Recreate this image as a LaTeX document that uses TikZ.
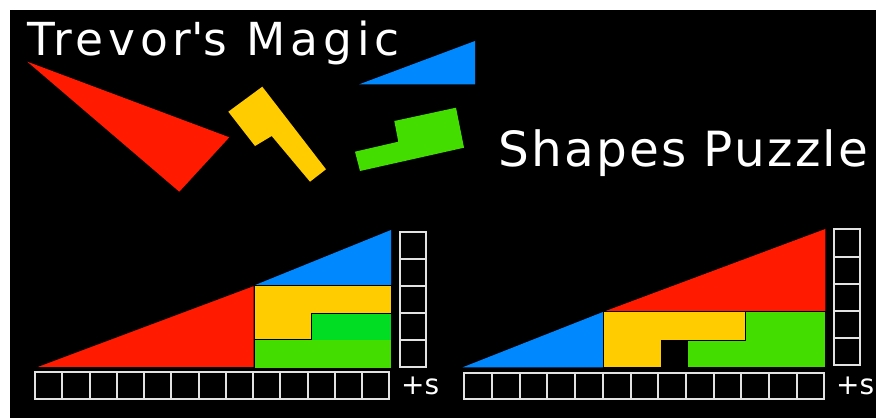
\documentclass[tikz,border=0pt]{standalone}
\usepackage{fontspec}
\setmainfont{DejaVu Sans}
\newfontfamily\titlefontA{DejaVu Sans}[LetterSpace=10.5]
\newfontfamily\titlefontB{DejaVu Sans}[LetterSpace=4.5]
\definecolor{pzred}{HTML}{FF1A00}
\definecolor{pzblue}{HTML}{0088FF}
\definecolor{pzyellow}{HTML}{FFCC00}
\definecolor{pzlime}{HTML}{44DD00}
\definecolor{pzgreen}{HTML}{00DD22}
\definecolor{pzgrid}{HTML}{E2E2E2}
\tikzset{
  piece/.style={draw=black, line width=0.8pt, line join=miter},
  gridsq/.style={draw=pzgrid, line width=2pt},
  title/.style={text=white, inner sep=0pt, anchor=base west},
  plus/.style={text=white, inner sep=0pt, anchor=base west, font=\fontsize{28}{32}\selectfont}
}
\begin{document}
\begin{tikzpicture}[x=1pt,y=-1pt]
\useasboundingbox (0,0) rectangle (876,418);
\fill[white] (0,0) rectangle (876,418);
\fill[black] (10,10) rectangle (876,418);

% titles
\node[title, font=\titlefontA\fontsize{45.5}{54}\selectfont] (t1) at (27,55) {Trevor\textquotesingle s Magic};
\node[title, font=\titlefontB\fontsize{48.5}{58}\selectfont] (t2) at (498,166) {Shapes Puzzle};

% loose pieces
\fill[pzred] (27.3,61.7) -- (229.3,137.3) -- (179.3,191.7) -- cycle;
\fill[pzyellow] (228.3,111.7) -- (262.3,86.7) -- (326,169.3) -- (310,181.7) -- (271.7,136) -- (255,146) -- cycle;
\fill[pzblue] (359.3,84.3) -- (475,41) -- (475,84.3) -- cycle;
\fill[pzlime] (355,151.7) -- (360,171) -- (464,147.7) -- (456,107.7) -- (394.3,121) -- (398.3,141.7) -- cycle;

% left arrangement
\fill[pzred,piece] (35,367.5) -- (254,285.5) -- (254,367.5) -- cycle;
\fill[pzblue] (254,285.5) -- (391,230) -- (391,285.5) -- cycle;
\fill[pzyellow,piece] (254,285.5) -- (391,285.5) -- (391,313.5) -- (311.7,313.5) -- (311.7,339.5) -- (254,339.5) -- cycle;
\fill[pzgreen] (311.7,313.5) rectangle (391,339.5);
\fill[pzlime] (254.5,339.5) rectangle (391,367.5);
\draw[black,line width=0.8pt] (254,285.5) -- (254,367.5);

\foreach \i in {0,...,12}
  \draw[gridsq] ({35+\i*27.25},372.3) rectangle ++(27.25,27);
\foreach \j in {0,...,4}
  \draw[gridsq] (399.5,{231.7+\j*27}) rectangle ++(26,27);
\node[plus] (p1) at (401,394) {+s};

% right arrangement
\fill[pzblue] (462.7,367.3) -- (603.7,311.7) -- (603.7,367.3) -- cycle;
\fill[pzred] (603.7,311.7) -- (825.3,229) -- (825.3,311.7) -- cycle;
\fill[pzyellow,piece] (603.7,311.7) -- (745.3,311.7) -- (745.3,340) -- (661.3,340) -- (661.3,367.3) -- (603.7,367.3) -- cycle;
\fill[pzlime,piece] (745.3,311.7) -- (825.3,311.7) -- (825.3,367.3) -- (687.7,367.3) -- (687.7,340) -- (745.3,340) -- cycle;

\foreach \i in {0,...,12}
  \draw[gridsq] ({464.3+\i*27.7},372.7) rectangle ++(27.7,26.5);
\foreach \j in {0,...,4}
  \draw[gridsq] (834,{229.3+\j*27.2}) rectangle ++(26,27.2);
\node[plus] (p2) at (836,394) {+s};
\end{tikzpicture}
\end{document}
